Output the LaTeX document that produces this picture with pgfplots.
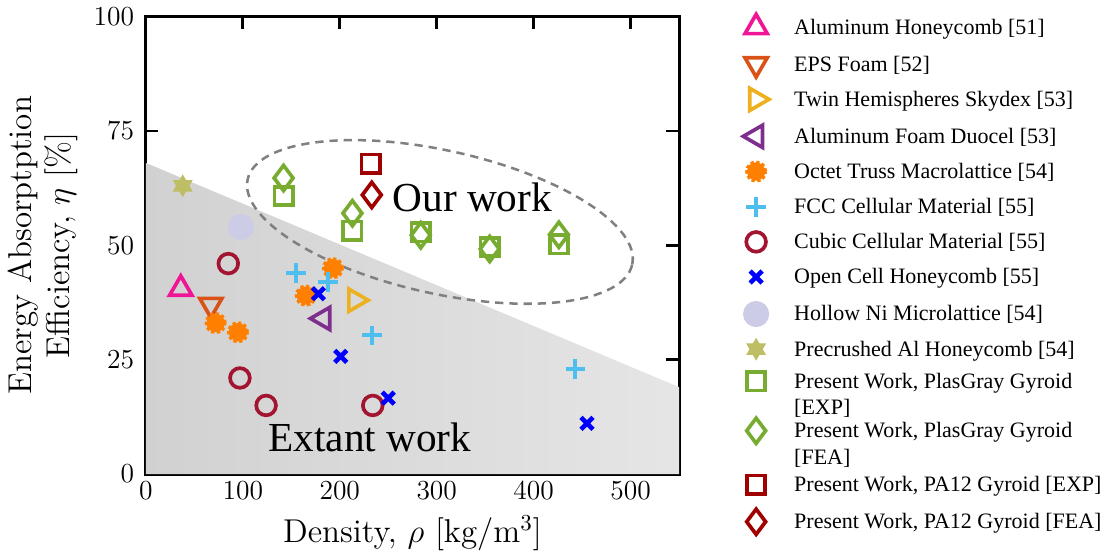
\documentclass[border=0pt]{standalone}
\usepackage{fontspec}
\usepackage{pgfplots}
\pgfplotsset{compat=1.18}
\newfontfamily\timesfont{Liberation Serif}
\definecolor{cMag}{RGB}{240,20,150}
\definecolor{cEPS}{RGB}{217,83,25}
\definecolor{cSky}{RGB}{237,177,32}
\definecolor{cDuo}{RGB}{126,47,142}
\definecolor{cOct}{RGB}{255,128,0}
\definecolor{cFCC}{RGB}{77,190,238}
\definecolor{cCub}{RGB}{162,20,47}
\definecolor{cOpen}{RGB}{0,0,255}
\definecolor{cNi}{RGB}{204,204,230}
\definecolor{cPre}{RGB}{190,190,100}
\definecolor{cGrn}{RGB}{119,172,48}
\definecolor{cPA}{RGB}{160,0,0}
\pgfdeclareplotmark{hexagram}{%
  \pgfpathmoveto{\pgfqpointpolar{90}{\pgfplotmarksize}}%
  \pgfpathlineto{\pgfqpointpolar{210}{\pgfplotmarksize}}%
  \pgfpathlineto{\pgfqpointpolar{330}{\pgfplotmarksize}}%
  \pgfpathclose
  \pgfpathmoveto{\pgfqpointpolar{270}{\pgfplotmarksize}}%
  \pgfpathlineto{\pgfqpointpolar{30}{\pgfplotmarksize}}%
  \pgfpathlineto{\pgfqpointpolar{150}{\pgfplotmarksize}}%
  \pgfpathclose
  \pgfusepathqfillstroke}
\newcommand{\twoline}[2]{\raisebox{0pt}[4.6pt][9.5pt]{\begin{tabular}[t]{@{}l@{}}#1\\[0.7pt]{}#2\end{tabular}}}
\begin{document}
\begin{tikzpicture}
\begin{axis}[
  scale only axis, width=232.6pt, height=199.6pt,
  xmin=0, xmax=550, ymin=0, ymax=100,
  xtick={0,100,200,300,400,500}, ytick={0,25,50,75,100},
  axis line style={line width=1.3pt},
  every tick/.style={line width=1.2pt, black},
  major tick length=5.5pt,
  tick label style={font=\fontsize{12.5}{14}\selectfont},
  yticklabel style={xshift=-1.6pt},
  label style={font=\fontsize{14.4}{16.8}\selectfont},
  xlabel={Density, $\rho$ [kg/m$^3$]},
  ylabel={Energy Absorptption\\Efficiency, $\eta$ [\%]},
  ylabel style={align=center},
  legend image code/.code={\path[draw=none, fill=none] (0pt,0pt) -- (24.6pt,0pt);
    \draw[overlay, mark repeat=2, mark phase=2, #1] plot coordinates {(0pt,3pt) (10pt,3pt) (20pt,3pt)};},
  legend style={at={(1.0877,1.016)}, anchor=north west, draw=none, fill=none,
    font=\timesfont\fontsize{9.6}{10.9}\selectfont, row sep=3.4pt,
    nodes={text depth=}, cells={anchor=base west}},
]
\addplot[draw=none, no marks, forget plot, left color=black!18, right color=black!10]
  coordinates {(0,0) (0,68) (550,19) (550,0)};
\draw[dashed, dash pattern=on 3.6pt off 2.6pt, line width=1.1pt, black!50,
  rotate around={-12.5:(axis cs:303.3,55.1)}]
  (axis cs:303.3,55.1) ellipse [x radius=85.9pt, y radius=31.2pt];
\node[anchor=base, font=\timesfont\fontsize{18}{20}\selectfont] at (axis cs:336.7,57.3) {Our work};
\node[anchor=base, font=\timesfont\fontsize{18}{20}\selectfont] at (axis cs:231,5) {Extant work};

\addplot[only marks, mark=triangle, mark size=5.6pt, cMag, line width=1.6pt]
  coordinates {(36,40.5)};
\addlegendentry{Aluminum Honeycomb [51]}
\addplot[only marks, mark=triangle, mark size=5.6pt, cEPS, line width=1.6pt, mark options={rotate=180}]
  coordinates {(67,37)};
\addlegendentry{EPS Foam [52]}
\addplot[only marks, mark=triangle, mark size=5.6pt, cSky, line width=1.6pt, mark options={rotate=-90}]
  coordinates {(216,38)};
\addlegendentry{Twin Hemispheres Skydex [53]}
\addplot[only marks, mark=triangle, mark size=5.6pt, cDuo, line width=1.6pt, mark options={rotate=90}]
  coordinates {(183,34)};
\addlegendentry{Aluminum Foam Duocel [53]}
\addplot[only marks, mark=*, mark size=4pt, cOct, mark options={fill=cOct, draw=cOct, line width=1.6pt, dash pattern=on 1.4pt off 1pt}]
  coordinates {(72,33) (95,31) (165,39) (193,45)};
\addlegendentry{Octet Truss Macrolattice [54]}
\addplot[only marks, mark=+, mark size=4.3pt, cFCC, line width=1.8pt]
  coordinates {(155,44) (188,42) (233,30.3) (443,23)};
\addlegendentry{FCC Cellular Material [55]}
\addplot[only marks, mark=o, mark size=4.3pt, cCub, line width=1.6pt]
  coordinates {(85,46) (97,21) (124,15) (234,15)};
\addlegendentry{Cubic Cellular Material [55]}
\addplot[only marks, mark=x, mark size=3.7pt, cOpen, line width=2pt]
  coordinates {(178,39.4) (201,25.7) (250,16.6) (455,11.1)};
\addlegendentry{Open Cell Honeycomb [55]}
\addplot[only marks, mark=*, mark size=5.5pt, cNi, mark options={draw=cNi, fill=cNi}]
  coordinates {(98,54)};
\addlegendentry{Hollow Ni Microlattice [54]}
\addplot[only marks, mark=hexagram, mark size=4.6pt, cPre, mark options={fill=cPre, draw=cPre}]
  coordinates {(38,63)};
\addlegendentry{Precrushed Al Honeycomb [54]}
\addplot[only marks, mark=square, mark size=4pt, cGrn, line width=1.6pt]
  coordinates {(142,60.8) (213,53.2) (283.5,52.8) (354.6,49.6) (426,50.2)};
\addlegendentry{\twoline{Present Work, PlasGray Gyroid}{[EXP]}}
\addplot[only marks, mark=diamond, mark size=5.5pt, cGrn, line width=1.6pt]
  coordinates {(142,64.7) (213,57) (283.5,52.2) (354.6,49.2) (426,52.3)};
\addlegendentry{\twoline{Present Work, PlasGray Gyroid}{[FEA]}}
\addplot[only marks, mark=square, mark size=4pt, cPA, line width=1.6pt]
  coordinates {(232,67.8)};
\addlegendentry{Present Work, PA12 Gyroid [EXP]}
\addplot[only marks, mark=diamond, mark size=5.5pt, cPA, line width=1.6pt]
  coordinates {(233,61)};
\addlegendentry{Present Work, PA12 Gyroid [FEA]}
\end{axis}
\end{tikzpicture}
\end{document}
